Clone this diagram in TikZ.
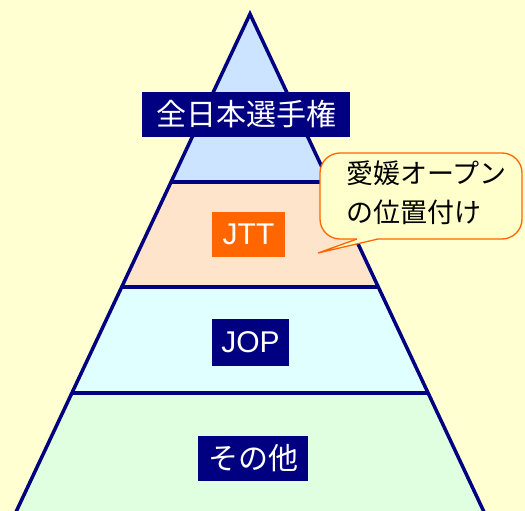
\documentclass[tikz,border=0pt]{standalone}
\usepackage{fontspec}
\setmainfont{Liberation Sans}
\newfontfamily\jp{Noto Sans CJK JP}
\usetikzlibrary{calc}
\definecolor{bgy}{HTML}{FFFFD2}
\definecolor{navy}{HTML}{000080}
\definecolor{bandA}{HTML}{CCE4FF}
\definecolor{bandB}{HTML}{FFE4CC}
\definecolor{bandC}{HTML}{E0FFFF}
\definecolor{bandD}{HTML}{E0FFE0}
\definecolor{orangeb}{HTML}{FF6600}
\definecolor{cfill}{HTML}{FFFFCC}
\tikzset{
  edge/.style={draw=navy, line width=3.5pt, line join=miter},
  lab/.style={text=white, inner sep=0pt, font=\fontsize{30}{30}\selectfont},
}
\begin{document}
\begin{tikzpicture}[x=1pt,y=-1pt]
\useasboundingbox (0,0) rectangle (525,511);
\clip (0,0) rectangle (525,511);
\fill[bgy] (0,0) rectangle (525,511);
\coordinate (apex) at (250,14);
\coordinate (bl) at (12.2,520);
\coordinate (br) at (487.8,520);
\coordinate (l1) at ($(apex)!0.332!(bl)$);
\coordinate (r1) at ($(apex)!0.332!(br)$);
\coordinate (l2) at ($(apex)!0.5395!(bl)$);
\coordinate (r2) at ($(apex)!0.5395!(br)$);
\coordinate (l3) at ($(apex)!0.749!(bl)$);
\coordinate (r3) at ($(apex)!0.749!(br)$);
% bands
\fill[bandA] (apex) -- (l1) -- (r1) -- cycle;
\fill[bandB] (l1) -- (l2) -- (r2) -- (r1) -- cycle;
\fill[bandC] (l2) -- (l3) -- (r3) -- (r2) -- cycle;
\fill[bandD] (l3) -- (bl) -- (br) -- (r3) -- cycle;
% outlines
\draw[edge] (bl) -- (apex) -- (br);
\draw[edge] (l1) -- (r1);
\draw[edge] (l2) -- (r2);
\draw[edge] (l3) -- (r3);
% labels
\node[lab, fill=navy, minimum width=208pt, minimum height=45pt] (t1) at (246,114.5) {\jp 全日本選手権};
\node[lab, fill=orangeb, minimum width=73pt, minimum height=45pt] (t2) at (248.5,234.5) {JTT};
\node[lab, fill=navy, minimum width=77pt, minimum height=47pt] (t3) at (250.5,342.5) {JOP};
\node[lab, fill=navy, minimum width=110pt, minimum height=45pt] (t4) at (253,458.5) {\jp その他};
% callout
\path[fill=cfill, draw=orangeb, line width=1.3pt, rounded corners=20pt] (320,153) rectangle (522,239);
\fill[cfill] (357,239) -- (318,253) -- (378,239) -- (378,236) -- (357,236) -- cycle;
\draw[draw=orangeb, line width=1.3pt, line join=miter] (357,239) -- (318,253) -- (378,239);
\node[anchor=west, align=left, inner sep=0pt, font=\jp\fontsize{27}{39}\selectfont] (ctext) at (346,192.5) {愛媛オープン\\の位置付け};
\end{tikzpicture}
\end{document}
